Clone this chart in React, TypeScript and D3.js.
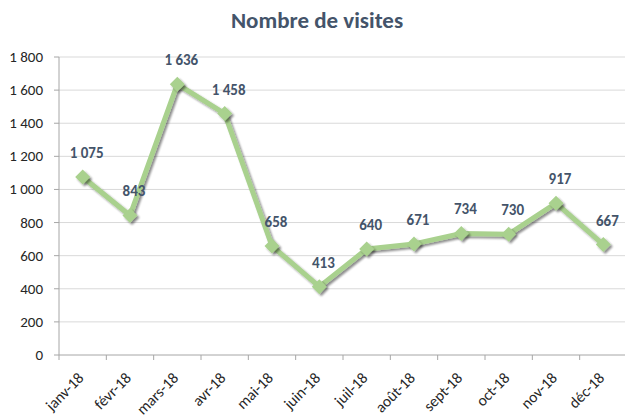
import React from "react";
import * as d3 from "d3";

const categories = ["janv-18","févr-18","mars-18","avr-18","mai-18","juin-18","juil-18","août-18","sept-18","oct-18","nov-18","déc-18"];
const visits = [1075, 843, 1636, 1458, 658, 413, 640, 671, 734, 730, 917, 667];
const yTicks = [0, 200, 400, 600, 800, 1000, 1200, 1400, 1600, 1800];

const W = 625, H = 419;
const left = 59, right = 627, top = 57, bottom = 355;
const font = "Calibri, Carlito, 'Liberation Sans', Arial, sans-serif";
const green = "#A9D18E";
const textDark = "#44546A";

const fmt = (v: number) => {
  const s = String(v);
  return s.length > 3 ? s.slice(0, s.length - 3) + "\u202F" + s.slice(-3) : s;
};

export default function App() {
  const x = d3.scaleBand<string>().domain(categories).range([left, right]);
  const y = d3.scaleLinear().domain([0, 1800]).range([bottom, top]);
  const cx = (c: string) => (x(c) as number) + x.bandwidth() / 2;
  const line = d3.line<number>().x((_, i) => cx(categories[i])).y((d) => y(d));
  const pts = visits.map((v, i) => [cx(categories[i]), y(v)]);
  const diamond = (px: number, py: number, r: number) =>
    `M${px},${py - r}L${px + r},${py}L${px},${py + r}L${px - r},${py}Z`;
  return (
    <svg width={W} height={H} style={{ position: "absolute", left: 0, top: 0, background: "#fff" }}>
      <defs>
        <filter id="sh" x="-50%" y="-50%" width="200%" height="200%">
          <feGaussianBlur in="SourceAlpha" stdDeviation="1.2" />
          <feOffset dx="1.5" dy="1.5" result="b" />
          <feComponentTransfer><feFuncA type="linear" slope="0.45" /></feComponentTransfer>
          <feMerge><feMergeNode /><feMergeNode in="SourceGraphic" /></feMerge>
        </filter>
      </defs>
      <text x={317} y={28} textAnchor="middle" fontFamily={font} fontSize={23} fontWeight="bold" fill={textDark}>
        Nombre de visites
      </text>
      {yTicks.map((t) => (
        <g key={t}>
          {t > 0 && <line x1={left} x2={right} y1={y(t)} y2={y(t)} stroke="#D9D9D9" strokeWidth={1} />}
          <line x1={left - 5} x2={left} y1={y(t)} y2={y(t)} stroke="#A6A6A6" />
          <text x={43} y={y(t) + 5} textAnchor="end" fontFamily={font} fontSize={15} fill="#262626">{fmt(t)}</text>
        </g>
      ))}
      <line x1={left} x2={left} y1={top} y2={bottom} stroke="#A6A6A6" />
      <line x1={left} x2={right} y1={bottom} y2={bottom} stroke="#A6A6A6" />
      {categories.map((c, i) => (
        <g key={c}>
          <line x1={x(c) as number} x2={x(c) as number} y1={bottom} y2={bottom + 5} stroke="#A6A6A6" />
          <text transform={`translate(${cx(c) + 2},${bottom + 24}) rotate(-45)`} textAnchor="end"
            fontFamily={font} fontSize={15.5} fill="#262626">{c}</text>
        </g>
      ))}
      <path d={line(visits) || ""} fill="none" stroke={green} strokeWidth={5} strokeLinejoin="round" filter="url(#sh)" />
      {pts.map(([px, py], i) => (
        <path key={i} d={diamond(px, py, 7.5)} fill={green} filter="url(#sh)" />
      ))}
      {pts.map(([px, py], i) => (
        <text key={"l" + i} x={px + 4} y={py - 19} textAnchor="middle" fontFamily={font} fontSize={15}
          fontWeight="bold" fill={textDark}>{fmt(visits[i])}</text>
      ))}
    </svg>
  );
}
